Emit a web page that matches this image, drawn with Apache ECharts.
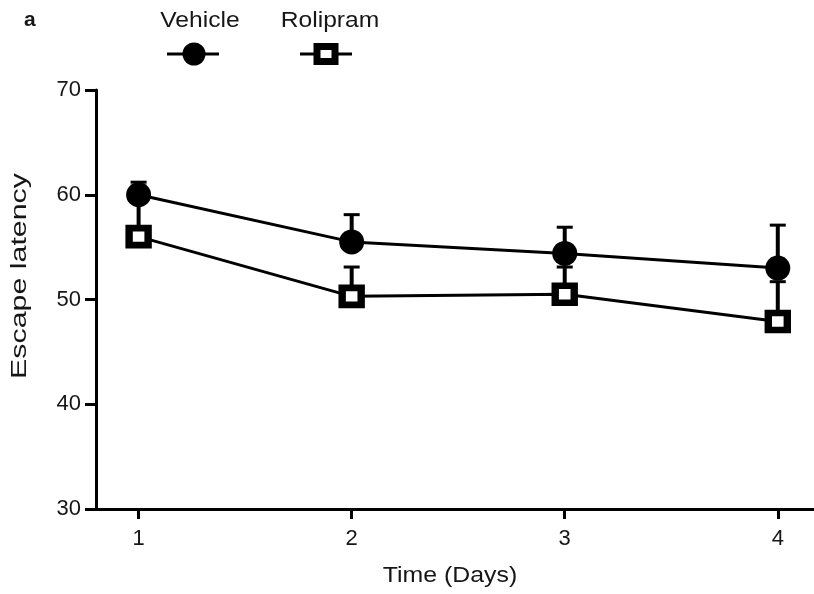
<!DOCTYPE html>
<html>
<head>
<meta charset="utf-8">
<script src="https://cdn.jsdelivr.net/npm/echarts@6/dist/echarts.min.js"></script>
<style>html,body{margin:0;padding:0;background:#fff}#c{width:814px;height:594px}</style>
</head>
<body>
<div id="c"></div>
<script>
const days = [1, 2, 3, 4];
const vehicle = [60.0, 55.5, 54.4, 53.0];
const vehicleUpper = [61.2, 58.1, 56.9, 57.1];
const rolipram = [56.0, 50.3, 50.5, 47.9];
const rolipramUpper = [59.5, 53.1, 53.1, 51.7];
const yTicks = [30, 40, 50, 60, 70];
const seriesNames = ['Vehicle', 'Rolipram'];
const xTitle = 'Time (Days)';
const yTitle = 'Escape latency';

const FONT = '"Liberation Sans", Arial, sans-serif';
const TXT = '#161616';

function errSeries(vals, uppers, z) {
  return {
    type: 'custom',
    z: z,
    silent: true,
    data: days.map((d, i) => [d, vals[i], uppers[i]]),
    renderItem: function (params, api) {
      const p0 = api.coord([api.value(0), api.value(1)]);
      const p1 = api.coord([api.value(0), api.value(2)]);
      const hw = 8;
      return {
        type: 'group',
        children: [
          { type: 'line', shape: { x1: p0[0], y1: p0[1], x2: p1[0], y2: p1[1] }, style: { stroke: '#000', lineWidth: 4 } },
          { type: 'line', shape: { x1: p1[0] - hw, y1: p1[1], x2: p1[0] + hw, y2: p1[1] }, style: { stroke: '#000', lineWidth: 3 } }
        ]
      };
    }
  };
}

const chart = echarts.init(document.getElementById('c'), null, { renderer: 'canvas' });
chart.setOption({
  backgroundColor: '#fff',
  animation: false,
  textStyle: { fontFamily: FONT },
  grid: { left: 96, right: 0, top: 90, bottom: 85, containLabel: false },
  xAxis: {
    type: 'value',
    min: 0.8,
    max: 4.17,
    axisLine: { show: true, lineStyle: { color: '#000', width: 3 } },
    axisTick: { show: true, customValues: days, length: 10, lineStyle: { color: '#000', width: 3 } },
    axisLabel: { show: true, customValues: days, fontSize: 22, color: TXT, margin: 19, fontFamily: FONT },
    splitLine: { show: false }
  },
  yAxis: {
    type: 'value',
    min: 30,
    max: 70,
    interval: 10,
    axisLine: { show: true, lineStyle: { color: '#000', width: 3 } },
    axisTick: { show: true, length: 11, lineStyle: { color: '#000', width: 3 } },
    axisLabel: { fontSize: 22, color: TXT, margin: 15, fontFamily: FONT, formatter: v => yTicks.includes(v) ? String(v) : '' },
    splitLine: { show: false }
  },
  series: [
    errSeries(vehicle, vehicleUpper, 1),
    errSeries(rolipram, rolipramUpper, 1),
    {
      name: seriesNames[0],
      type: 'line',
      z: 3,
      data: days.map((d, i) => [d, vehicle[i]]),
      symbol: 'circle',
      symbolSize: 25,
      lineStyle: { color: '#000', width: 3 },
      itemStyle: { color: '#000', borderColor: '#000', borderWidth: 0 }
    },
    {
      name: seriesNames[1],
      type: 'line',
      z: 3,
      data: days.map((d, i) => [d, rolipram[i]]),
      symbol: 'rect',
      symbolSize: [19, 17],
      lineStyle: { color: '#000', width: 3 },
      itemStyle: { color: '#fff', borderColor: '#000', borderWidth: 7 }
    }
  ],
  graphic: [
    { type: 'text', x: 24, y: 10, style: { text: 'a', fontSize: 21, fontWeight: 'bold', fill: TXT, fontFamily: FONT } },
    { type: 'text', x: 200, y: 21, scaleX: 1.12, style: { text: seriesNames[0], fontSize: 22, fill: TXT, align: 'center', verticalAlign: 'middle', fontFamily: FONT } },
    { type: 'text', x: 330, y: 21, scaleX: 1.12, style: { text: seriesNames[1], fontSize: 22, fill: TXT, align: 'center', verticalAlign: 'middle', fontFamily: FONT } },
    { type: 'line', shape: { x1: 167, y1: 54, x2: 219, y2: 54 }, style: { stroke: '#000', lineWidth: 3 } },
    { type: 'circle', shape: { cx: 194, cy: 54, r: 11.5 }, style: { fill: '#000' } },
    { type: 'line', shape: { x1: 300, y1: 54, x2: 352, y2: 54 }, style: { stroke: '#000', lineWidth: 3 } },
    { type: 'rect', shape: { x: 317, y: 46.5, width: 18, height: 15 }, style: { fill: '#fff', stroke: '#000', lineWidth: 7 } },
    { type: 'text', x: 450, y: 576, scaleX: 1.13, style: { text: xTitle, fontSize: 22, fill: TXT, align: 'center', verticalAlign: 'middle', fontFamily: FONT } },
    { type: 'text', x: 20, y: 276, rotation: Math.PI / 2, scaleX: 1.38, style: { text: yTitle, fontSize: 22, fill: TXT, align: 'center', verticalAlign: 'middle', fontFamily: FONT } }
  ]
});
</script>
</body>
</html>
